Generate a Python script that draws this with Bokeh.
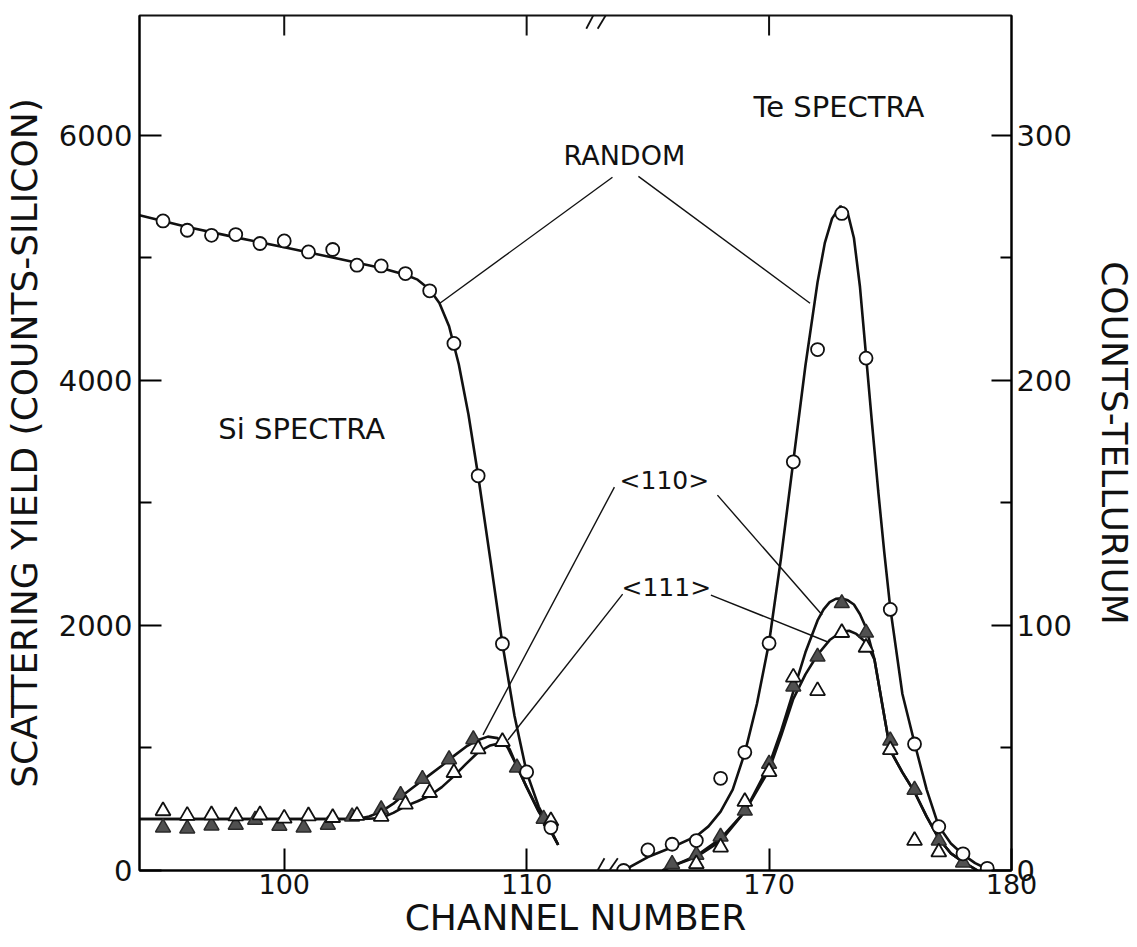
from bokeh.plotting import figure
from bokeh.models import Range1d, LinearAxis, FixedTicker, Label, Arrow, ColumnDataSource
from bokeh.embed import file_html
from bokeh.resources import INLINE

# ---------------- data ----------------
# channels after the axis break are shifted left by this amount for display
TE_OFFSET = 50

# Si spectra (left axis: counts, silicon)
si_random_ch = [95, 96, 97, 98, 99, 100, 101, 102, 103, 104, 105, 106, 107, 108, 109, 110, 111]
si_random_y = [5299, 5223, 5182, 5188, 5115, 5136, 5046, 5066, 4938, 4932, 4870, 4729, 4300, 3220, 1850, 804, 350]

si_110_ch = [95, 96, 97, 98, 98.8, 99.8, 100.8, 101.8, 102.8, 104, 104.8, 105.7, 106.8, 107.8, 109.6, 110.7]
si_110_y = [350, 342, 366, 372, 413, 364, 350, 372, 440, 500, 616, 747, 907, 1070, 839, 421]

si_111_ch = [95, 96, 97, 98, 99, 100, 101, 102, 103, 104, 105, 106, 107, 108, 109, 111]
si_111_y = [486, 448, 453, 445, 453, 426, 445, 431, 448, 440, 540, 635, 798, 991, 1051, 404]

# fitted curves
si_random_fit_ch = [94.03, 96, 98, 100, 102, 104, 105, 105.5, 106, 106.4, 106.8, 107.2, 107.6, 108, 108.5, 109, 109.5, 110, 110.5, 111, 111.3]
si_random_fit_y = [5346, 5250, 5165, 5085, 5000, 4915, 4860, 4820, 4740, 4630, 4440, 4130, 3720, 3220, 2540, 1850, 1260, 800, 520, 330, 210]

si_110_fit_ch = [94.03, 103, 103.5, 104, 104.5, 105, 105.5, 106, 106.5, 107, 107.5, 108, 108.4, 108.8, 109.2, 109.6, 110, 110.5, 111, 111.3]
si_110_fit_y = [420, 420, 440, 480, 545, 630, 705, 780, 855, 935, 1010, 1065, 1092, 1080, 1010, 850, 680, 480, 320, 210]

si_111_fit_ch = [94.03, 103, 103.5, 104, 104.5, 105, 105.5, 106, 106.5, 107, 107.5, 108, 108.5, 109, 109.3, 109.6, 110, 110.5, 111, 111.3]
si_111_fit_y = [420, 420, 422, 428, 470, 525, 565, 610, 680, 770, 870, 965, 1020, 1045, 990, 850, 680, 480, 320, 210]

# Te spectra (right axis: counts, tellurium)
te_random_ch = [164, 165, 166, 167, 168, 169, 170, 171, 172, 173, 174, 175, 176, 177, 178, 179]
te_random_y = [0, 8.4, 10.7, 12.2, 37.6, 48.2, 92.7, 166.7, 212.5, 268, 209, 106.5, 51.6, 17.9, 6.8, 0.9]

te_110_ch = [166, 167, 168, 169, 170, 171, 172, 173, 174, 175, 176, 177, 178]
te_110_y = [2.6, 6.4, 13.8, 24.4, 43.5, 75, 87.2, 109, 97, 53, 32.9, 12.2, 3.2]

te_111_ch = [167, 168, 169, 170, 171, 172, 173, 174, 175, 176, 177]
te_111_y = [2.7, 9.5, 28.1, 40.3, 78.8, 73.3, 97, 91, 49.2, 12.2, 7.5]

te_random_fit_ch = [164, 165, 166, 167, 167.5, 168, 168.5, 169, 169.5, 170, 170.5, 171, 171.5, 172, 172.3, 172.6, 172.95,
                    173.25, 173.5, 173.75, 174, 174.25, 174.5, 174.75, 175, 175.5, 176, 176.5, 177, 177.5, 178, 178.5, 179]
te_random_fit_y = [0, 5.5, 9.5, 14, 18, 24, 33, 48, 68, 93, 128, 167, 206, 240, 256, 266, 271,
                   268, 258, 238, 210, 182, 155, 130, 107, 72, 52, 33, 18, 11, 6.5, 3, 0.6]

te_110_fit_ch = [165.6, 166, 167, 168, 169, 170, 170.5, 171, 171.5, 172, 172.25, 172.5, 172.75, 173, 173.25, 173.5, 173.75, 174, 174.35,
                 174.7, 175, 175.5, 176, 176.5, 177, 177.5, 178, 178.6]
te_110_fit_y = [0, 1.8, 6, 13, 24, 43, 57, 73, 89, 102, 106.5, 109.5, 110.8, 111, 110.2, 108.5, 104.5, 99, 86,
                66, 49, 40, 32, 22, 13, 7, 3.5, 0]

te_111_fit_ch = [165.6, 166, 167, 168, 169, 170, 170.5, 171, 171.5, 172, 172.5, 173, 173.3, 173.6, 174, 174.35,
                 174.7, 175, 175.5, 176, 176.5, 177, 177.5, 178, 178.6]
te_111_fit_y = [0, 1.8, 5.5, 12, 24, 41, 55, 70, 80, 88, 94, 97.5, 97.8, 96.5, 93, 86,
                66, 49, 40, 32, 22, 13, 7, 3.5, 0]

# axis ticks and labels
x_tick_channels = [100, 110, 170, 180]
top_tick_channels = [100, 110, 170]
left_ticks = [0, 2000, 4000, 6000]
left_minor = [1000, 3000, 5000]
right_ticks = [0, 100, 200, 300]
right_minor = [50, 150, 250]

FONT = "DejaVu Sans"
Y_MAX = 6975
X_MIN, X_MAX = 94.03, 130


def disp(chs):
    return [c - TE_OFFSET if c > 150 else c for c in chs]


# ---------------- figure ----------------
p = figure(width=1137, height=947, x_range=Range1d(X_MIN, X_MAX), y_range=Range1d(0, Y_MAX),
           output_backend="svg", toolbar_location=None,
           min_border_left=139, min_border_right=126, min_border_top=15, min_border_bottom=77)
p.extra_y_ranges = {"te": Range1d(0, Y_MAX / 20)}
p.grid.visible = False
p.outline_line_color = "#111111"
p.outline_line_width = 2
p.background_fill_color = "white"
p.border_fill_color = "white"

tick_disp = disp(x_tick_channels)
xa = p.xaxis[0]
xa.ticker = FixedTicker(ticks=tick_disp)
xa.major_label_overrides = {d: str(c) for d, c in zip(tick_disp, x_tick_channels)}
xa.major_tick_in = 22
xa.major_tick_out = 0
xa.minor_tick_line_color = None
xa.axis_line_width = 2
xa.major_tick_line_width = 2
xa.major_label_text_font = FONT
xa.major_label_text_font_size = "27px"
xa.major_label_text_color = "#111111"
xa.major_label_standoff = 3
xa.axis_label = "CHANNEL NUMBER"
xa.axis_label_text_font = FONT
xa.axis_label_text_font_size = "36px"
xa.axis_label_text_font_style = "normal"
xa.axis_label_text_color = "#111111"
xa.axis_label_standoff = 0

ya = p.yaxis[0]
ya.ticker = FixedTicker(ticks=left_ticks, minor_ticks=left_minor)
ya.major_tick_in = 22
ya.major_tick_out = 0
ya.minor_tick_in = 12
ya.minor_tick_out = 0
ya.axis_line_width = 2
ya.major_tick_line_width = 2
ya.minor_tick_line_width = 2
ya.major_label_text_font = FONT
ya.major_label_text_font_size = "29px"
ya.major_label_text_color = "#111111"
ya.major_label_standoff = 7
ya.axis_label = "SCATTERING YIELD (COUNTS-SILICON)"
ya.axis_label_text_font = FONT
ya.axis_label_text_font_size = "36px"
ya.axis_label_text_font_style = "normal"
ya.axis_label_text_color = "#111111"
ya.axis_label_standoff = 11

ra = LinearAxis(y_range_name="te", ticker=FixedTicker(ticks=right_ticks, minor_ticks=right_minor))
ra.major_tick_in = 20
ra.major_tick_out = 0
ra.minor_tick_in = 11
ra.minor_tick_out = 0
ra.axis_line_width = 2
ra.major_tick_line_width = 2
ra.minor_tick_line_width = 2
ra.major_label_text_font = FONT
ra.major_label_text_font_size = "29px"
ra.major_label_text_color = "#111111"
ra.major_label_standoff = 5
ra.axis_label = "COUNTS-TELLURIUM"
ra.axis_label_text_font = FONT
ra.axis_label_text_font_size = "36px"
ra.axis_label_text_font_style = "normal"
ra.axis_label_text_color = "#111111"
ra.axis_label_standoff = 19
p.add_layout(ra, "right")

# top frame ticks (no labels), 20 px long
top_x = disp(top_tick_channels)
tick_len = 20 * Y_MAX / 855
p.segment(x0=top_x, y0=[Y_MAX] * len(top_x), x1=top_x, y1=[Y_MAX - tick_len] * len(top_x),
          line_width=2, line_color="#111111")

# ---------------- curves ----------------
LW = 2.6
p.line(disp(si_random_fit_ch), si_random_fit_y, line_width=LW, line_color="#111111")
p.line(disp(si_110_fit_ch), si_110_fit_y, line_width=LW, line_color="#111111")
p.line(disp(si_111_fit_ch), si_111_fit_y, line_width=LW, line_color="#111111")
p.line(disp(te_random_fit_ch), te_random_fit_y, line_width=LW, line_color="#111111", y_range_name="te")
p.line(disp(te_110_fit_ch), te_110_fit_y, line_width=LW, line_color="#111111", y_range_name="te")
p.line(disp(te_111_fit_ch), te_111_fit_y, line_width=LW, line_color="#111111", y_range_name="te")

# ---------------- leader lines (annotation) ----------------
leaders = ColumnDataSource(dict(
    x0=[113.54, 114.61, 113.62, 113.96, 117.87, 117.6],
    y0=[5655, 5663, 3128, 2255, 3062, 2247],
    x1=[106.42, 121.69, 108.2, 109.23, 122.19, 122.4],
    y1=[4628, 4628, 1106, 1065, 2084, 1866],
))
p.segment("x0", "y0", "x1", "y1", source=leaders, line_width=1.4, line_color="#111111")


# ---------------- markers ----------------
def open_tri(x, y, rng="default"):
    p.scatter(x, y, marker="triangle", size=15, fill_color="white", line_color="#111111",
              line_width=1.8, y_range_name=rng)


def filled_tri(x, y, rng="default"):
    p.scatter(x, y, marker="triangle", size=15, fill_color="#505050", line_color="#2a2a2a",
              line_width=1.5, y_range_name=rng)


def circ(x, y, rng="default"):
    p.scatter(x, y, marker="circle", size=13, fill_color="white", line_color="#111111",
              line_width=1.8, y_range_name=rng)


filled_tri(disp(si_110_ch), si_110_y)
open_tri(disp(si_111_ch), si_111_y)
circ(disp(si_random_ch), si_random_y)
filled_tri(disp(te_110_ch), te_110_y, "te")
open_tri(disp(te_111_ch), te_111_y, "te")
circ(disp(te_random_ch), te_random_y, "te")

# ---------------- axis break marks ----------------
for (xs, ys, xe, ye) in [(112.59, -117, 113.21, 100), (113.0, -117, 113.76, 100),
                         (112.46, 6867, 113.0, 7071), (112.93, 6867, 113.55, 7071)]:
    p.add_layout(Arrow(x_start=xs, y_start=ys, x_end=xe, y_end=ye, end=None, start=None,
                       line_width=1.8, line_color="#111111", level="overlay"))


# ---------------- text labels ----------------
def txt(x, y, s, size):
    p.add_layout(Label(x=x, y=y, text=s, text_font=FONT, text_font_size=size,
                       text_align="center", text_baseline="middle", text_color="#111111"))


txt(114.03, 5834, "RANDOM", "27px")
txt(122.88, 6225, "Te SPECTRA", "29px")
txt(100.72, 3601, "Si SPECTRA", "29px")
txt(115.68, 3185, "<110>", "25px")
txt(115.76, 2305, "<111>", "25px")

open("out.html", "w").write(file_html(p, INLINE))
